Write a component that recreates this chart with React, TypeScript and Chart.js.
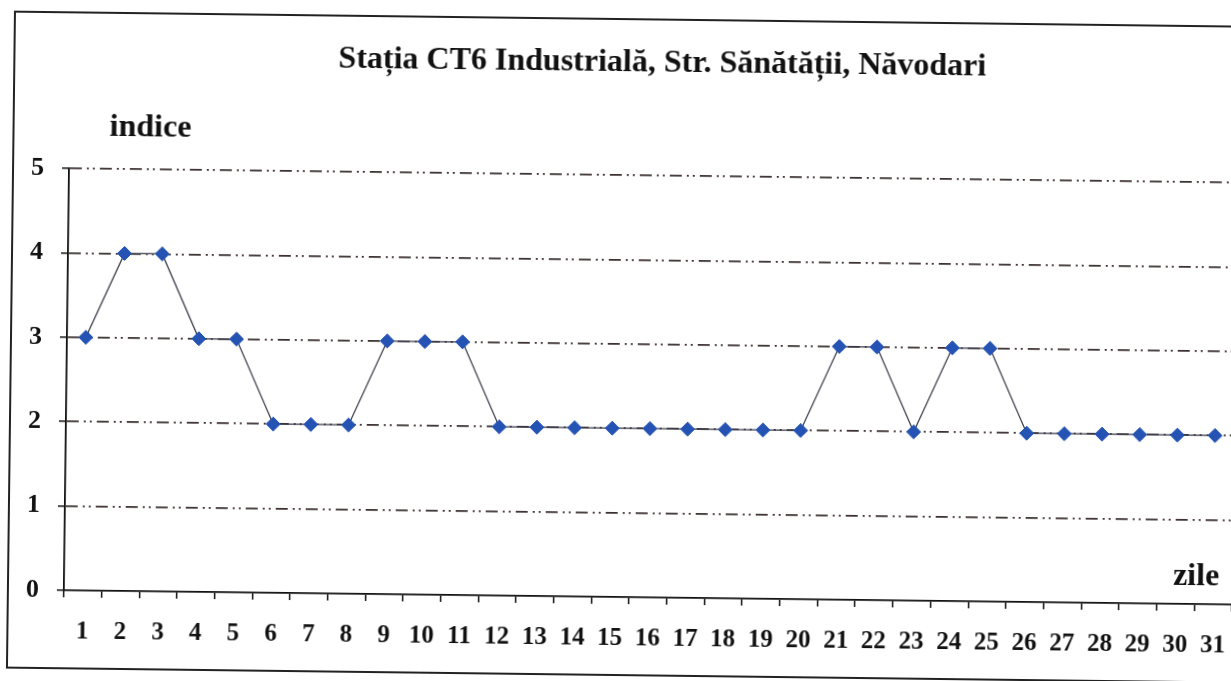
import React, { useEffect, useRef } from "react";
import { Chart, registerables } from "chart.js";

Chart.register(...registerables);

const days: string[] = [
  "1", "2", "3", "4", "5", "6", "7", "8", "9", "10", "11", "12", "13", "14", "15", "16",
  "17", "18", "19", "20", "21", "22", "23", "24", "25", "26", "27", "28", "29", "30", "31",
];
const indiceValues: number[] = [
  3, 4, 4, 3, 3, 2, 2, 2, 3, 3, 3, 2, 2, 2, 2, 2, 2, 2, 2, 2, 3, 3, 2, 3, 3, 2, 2, 2, 2, 2, 2,
];
const titleText = "Stația CT6 Industrială, Str. Sănătății, Năvodari";
const yAxisTitle = "indice";
const xAxisTitle = "zile";

const W = 1250;
const H = 690;
const SERIF = '"Liberation Serif", "Times New Roman", serif';

export default function App() {
  const ref = useRef<HTMLCanvasElement | null>(null);

  useEffect(() => {
    const canvas = ref.current;
    if (!canvas) return;
    const decor = {
      id: "decor",
      afterDraw(chart: any) {
        const ctx = chart.ctx;
        ctx.save();
        ctx.strokeStyle = "#222";
        ctx.lineWidth = 2;
        ctx.strokeRect(11, 19, 1260, 656);
        ctx.fillStyle = "#111";
        ctx.textAlign = "center";
        ctx.textBaseline = "middle";
        ctx.font = `bold 32px ${SERIF}`;
        ctx.fillText(titleText, 659, 63);
        ctx.font = `bold 32px ${SERIF}`;
        ctx.fillText(yAxisTitle, 148, 134);
        ctx.font = `bold 32px ${SERIF}`;
        ctx.fillText(xAxisTitle, 1199, 570);
        ctx.restore();
      },
    };
    const chart = new Chart(canvas, {
      type: "line",
      data: {
        labels: days,
        datasets: [
          {
            data: indiceValues,
            borderColor: "#3a3d4d",
            borderWidth: 1.3,
            pointStyle: "rectRot",
            pointRadius: 7,
            pointBackgroundColor: "#2453b3",
            pointBorderColor: "#2453b3",
            pointBorderWidth: 1,
            tension: 0,
          },
        ],
      },
      options: {
        responsive: false,
        animation: false,
        events: [],
        layout: { padding: { left: 0, top: 175, right: W - 1235, bottom: 0 } },
        plugins: { legend: { display: false }, title: { display: false }, tooltip: { enabled: false } },
        scales: {
          x: {
            offset: true,
            afterFit: (s: any) => {
              s.height = H - 597;
            },
            grid: {
              offset: true,
              drawOnChartArea: false,
              drawTicks: true,
              tickLength: 7,
              color: "#111",
              lineWidth: 1.5,
            },
            border: { display: true, color: "#111", width: 1.8 },
            ticks: {
              color: "#111",
              font: { family: SERIF, size: 25, weight: "bold" },
              padding: 20,
              maxRotation: 0,
              autoSkip: false,
            },
          },
          y: {
            min: 0,
            max: 5,
            afterFit: (s: any) => {
              s.width = 67;
            },
            grid: {
              color: (c: any) => (c.tick && c.tick.value === 0 ? "rgba(0,0,0,0)" : "#3b2f2f"),
              lineWidth: 1.8,
              drawTicks: true,
              tickLength: 7,
              tickColor: "#111",
              tickWidth: 1.5,
              tickBorderDash: [],
            },
            border: { display: true, color: "#111", width: 1.8, dash: [12, 5, 2, 4, 2, 5] },
            ticks: {
              stepSize: 1,
              color: "#111",
              font: { family: SERIF, size: 26, weight: "bold" },
              padding: 18,
            },
          },
        },
      },
      plugins: [decor],
    } as any);
    return () => chart.destroy();
  }, []);

  return (
    <div style={{ position: "fixed", left: 0, top: 0, width: 1231, height: 681, overflow: "hidden", background: "#fff" }}>
      <div
        style={{
          position: "absolute",
          left: 0,
          top: 0,
          width: W,
          height: H,
          transform: "rotate(0.7deg)",
          transformOrigin: "615px 340px",
        }}
      >
        <canvas ref={ref} width={W} height={H} style={{ display: "block", width: W, height: H }} />
      </div>
    </div>
  );
}
